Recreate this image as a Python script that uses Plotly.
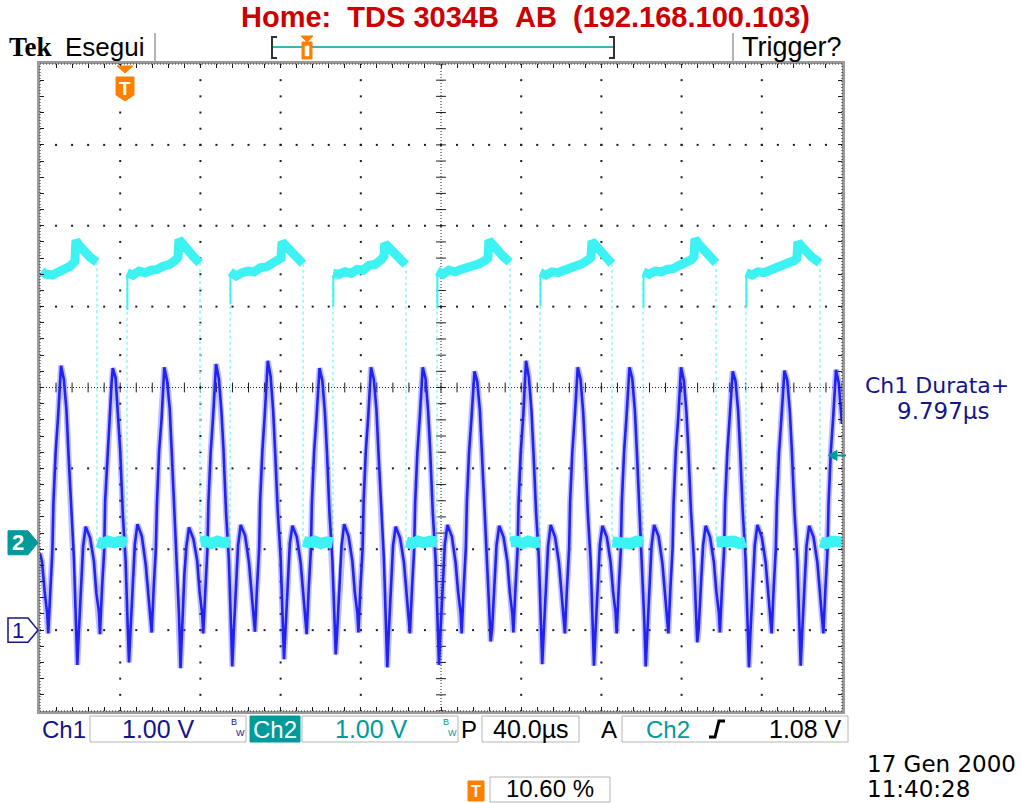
import numpy as np
import plotly.graph_objects as go

TIME_PER_DIV_US = 40.0           # 40.0 us/div, 10 divisions
CH1_VOLTS_PER_DIV = 1.0
CH2_VOLTS_PER_DIV = 1.0
CH1_OFFSET_DIV = -3.0            # ground marker "1"
CH2_OFFSET_DIV = -1.92           # ground marker "2"
TRIG_LEVEL_V = 1.08
TRIG_POS_PCT = 10.60

# Channel 1 (blue) : time in us, value in V
CH1_T = [
    0.0, 1.0, 2.3, 3.6, 4.1, 5.1, 6.2, 6.7, 7.8, 9.0, 9.9,
    10.5, 11.9, 13.2, 14.2, 15.5, 16.9, 17.9, 18.6, 19.3, 20.5, 21.5, 22.8, 25.0, 26.9, 28.1, 29.4, 29.9, 30.9, 32.0, 32.5, 33.6, 34.8, 35.7,
    36.3, 37.7, 39.0, 40.0, 41.3, 42.7, 43.7, 44.4, 45.1, 46.3, 47.3, 48.6, 50.8, 52.7, 53.9, 55.2, 55.7, 56.7, 57.8, 58.3, 59.4, 60.6, 61.5,
    62.0, 63.4, 64.7, 65.7, 67.0, 68.4, 69.4, 70.1, 70.8, 72.0, 73.0, 74.3, 76.5, 78.4, 79.6, 80.9, 81.4, 82.4, 83.5, 84.0, 85.1, 86.3, 87.2,
    87.8, 89.2, 90.5, 91.5, 92.8, 94.2, 95.2, 95.9, 96.6, 97.8, 98.8, 100.1, 102.3, 104.2, 105.4, 106.7, 107.2, 108.2, 109.3, 109.8, 110.9, 112.1, 113.0,
    113.6, 115.0, 116.3, 117.3, 118.6, 120.0, 121.0, 121.7, 122.4, 123.6, 124.6, 125.9, 128.1, 130.0, 131.2, 132.5, 133.0, 134.0, 135.1, 135.6, 136.7, 137.9, 138.8,
    139.4, 140.8, 142.1, 143.1, 144.4, 145.8, 146.8, 147.5, 148.2, 149.4, 150.4, 151.7, 153.9, 155.8, 157.0, 158.3, 158.8, 159.8, 160.9, 161.4, 162.5, 163.7, 164.6,
    165.1, 166.5, 167.8, 168.8, 170.1, 171.5, 172.5, 173.2, 173.9, 175.1, 176.1, 177.4, 179.6, 181.5, 182.7, 184.0, 184.5, 185.5, 186.6, 187.1, 188.2, 189.4, 190.3,
    190.9, 192.3, 193.6, 194.6, 195.9, 197.3, 198.3, 199.0, 199.7, 200.9, 201.9, 203.2, 205.4, 207.3, 208.5, 209.8, 210.3, 211.3, 212.4, 212.9, 214.0, 215.2, 216.1,
    216.7, 218.1, 219.4, 220.4, 221.7, 223.1, 224.1, 224.8, 225.5, 226.7, 227.7, 229.0, 231.2, 233.1, 234.3, 235.6, 236.1, 237.1, 238.2, 238.7, 239.8, 241.0, 241.9,
    242.4, 243.8, 245.1, 246.1, 247.4, 248.8, 249.8, 250.5, 251.2, 252.4, 253.4, 254.7, 256.9, 258.8, 260.0, 261.3, 261.8, 262.8, 263.9, 264.4, 265.5, 266.7, 267.6,
    268.2, 269.6, 270.9, 271.9, 273.2, 274.6, 275.6, 276.3, 277.0, 278.2, 279.2, 280.5, 282.7, 284.6, 285.8, 287.1, 287.6, 288.6, 289.7, 290.2, 291.3, 292.5, 293.4,
    294.0, 295.4, 296.7, 297.7, 299.0, 300.4, 301.4, 302.1, 302.8, 304.0, 305.0, 306.3, 308.5, 310.4, 311.6, 312.9, 313.4, 314.4, 315.5, 316.0, 317.1, 318.3, 319.2,
    319.7, 321.1, 322.4, 323.4, 324.7, 326.1, 327.1, 327.8, 328.5, 329.7, 330.7, 332.0, 334.2, 336.1, 337.3, 338.6, 339.1, 340.1, 341.2, 341.7, 342.8, 344.0, 344.9,
    345.5, 346.9, 348.2, 349.2, 350.5, 351.9, 352.9, 353.6, 354.3, 355.5, 356.5, 357.8, 360.0, 361.9, 363.1, 364.4, 364.9, 365.9, 367.0, 367.5, 368.6, 369.8, 370.7,
    371.3, 372.7, 374.0, 375.0, 376.3, 377.7, 378.7, 379.4, 380.1, 381.3, 382.3, 383.6, 385.8, 387.7, 388.9, 390.2, 390.7, 391.7, 392.8, 393.3, 394.4, 395.6, 396.5,
    397.0, 398.4, 400.0,
]
CH1_V = [
    0.95, 0.85, 0.48, 0.20, -0.04, 0.50, 1.00, 1.57, 2.20, 2.63, 3.05,
    3.27, 3.10, 2.72, 2.18, 1.47, 0.90, 0.12, -0.43, -0.06, 0.66, 1.04, 1.28, 1.14, 0.85, 0.46, 0.22, -0.05, 0.50, 0.98, 1.60, 2.18, 2.64, 3.06,
    3.24, 3.12, 2.68, 2.22, 1.43, 0.86, 0.08, -0.40, -0.03, 0.64, 1.06, 1.31, 1.16, 0.82, 0.50, 0.18, -0.03, 0.52, 1.02, 1.55, 2.22, 2.60, 3.02,
    3.25, 3.08, 2.74, 2.20, 1.48, 0.89, 0.14, -0.47, -0.07, 0.68, 1.03, 1.27, 1.13, 0.86, 0.47, 0.20, -0.04, 0.49, 1.00, 1.57, 2.19, 2.63, 3.04,
    3.29, 3.11, 2.70, 2.24, 1.45, 0.87, 0.11, -0.45, -0.04, 0.65, 1.05, 1.30, 1.17, 0.84, 0.49, 0.21, -0.02, 0.51, 1.01, 1.59, 2.21, 2.66, 3.08,
    3.33, 3.14, 2.71, 2.19, 1.46, 0.90, 0.18, -0.36, -0.02, 0.67, 1.07, 1.29, 1.15, 0.83, 0.48, 0.19, -0.05, 0.50, 0.99, 1.56, 2.20, 2.62, 3.03,
    3.24, 3.09, 2.69, 2.21, 1.44, 0.88, 0.15, -0.30, -0.02, 0.66, 1.04, 1.31, 1.16, 0.85, 0.47, 0.21, -0.03, 0.52, 1.01, 1.58, 2.21, 2.64, 3.05,
    3.25, 3.10, 2.73, 2.20, 1.47, 0.89, 0.10, -0.46, -0.05, 0.65, 1.05, 1.28, 1.14, 0.84, 0.49, 0.20, -0.04, 0.50, 1.00, 1.57, 2.19, 2.63, 3.04,
    3.25, 3.11, 2.70, 2.22, 1.45, 0.87, 0.12, -0.43, -0.04, 0.66, 1.06, 1.30, 1.16, 0.83, 0.48, 0.21, -0.04, 0.51, 1.02, 1.59, 2.20, 2.62, 3.06,
    3.20, 3.07, 2.71, 2.19, 1.46, 0.88, 0.20, -0.14, 0.02, 0.67, 1.05, 1.29, 1.15, 0.85, 0.47, 0.20, -0.03, 0.50, 1.00, 1.57, 2.21, 2.64, 3.05,
    3.33, 3.13, 2.72, 2.21, 1.47, 0.89, 0.13, -0.42, -0.05, 0.66, 1.04, 1.30, 1.15, 0.84, 0.48, 0.20, -0.04, 0.51, 1.01, 1.58, 2.20, 2.63, 3.05,
    3.25, 3.10, 2.70, 2.21, 1.45, 0.88, 0.12, -0.44, -0.05, 0.65, 1.05, 1.29, 1.15, 0.84, 0.48, 0.21, -0.04, 0.50, 1.00, 1.58, 2.20, 2.63, 3.05,
    3.25, 3.11, 2.71, 2.20, 1.46, 0.87, 0.11, -0.45, -0.05, 0.66, 1.04, 1.30, 1.16, 0.83, 0.49, 0.20, -0.04, 0.51, 1.01, 1.57, 2.21, 2.62, 3.04,
    3.25, 3.09, 2.70, 2.22, 1.46, 0.89, 0.22, -0.15, 0.01, 0.66, 1.05, 1.29, 1.15, 0.84, 0.48, 0.21, -0.03, 0.50, 1.00, 1.58, 2.20, 2.64, 3.05,
    3.20, 3.08, 2.71, 2.21, 1.46, 0.88, 0.12, -0.46, -0.05, 0.65, 1.05, 1.30, 1.15, 0.84, 0.48, 0.20, -0.04, 0.51, 1.01, 1.57, 2.20, 2.63, 3.04,
    3.21, 3.09, 2.70, 2.21, 1.46, 0.88, 0.12, -0.44, -0.05, 0.65, 1.04, 1.29, 1.15, 0.84, 0.48, 0.20, -0.04, 0.50, 1.00, 1.57, 2.20, 2.63, 3.05,
    3.22, 3.05, 2.55,
]

# Channel 2 (cyan) high-state segments (None separates segments)
CH2_HIGH_T = [
    0.8, 3.0, 6.0, 9.0, 12.0, 15.0, 17.4, 17.9, 19.4, 22.0, 25.0, 28.3, None,
    43.5, 46.4, 49.4, 52.4, 55.4, 58.4, 61.4, 64.4, 67.4, 68.8, 69.3, 70.9, 73.4, 76.4, 79.7, None,
    94.9, 97.8, 100.8, 103.8, 106.8, 109.8, 112.8, 115.8, 118.8, 120.2, 120.7, 122.3, 124.8, 127.8, 131.1, None,
    146.2, 149.1, 152.1, 155.1, 158.1, 161.1, 164.1, 167.1, 170.1, 171.5, 172.0, 173.6, 176.1, 179.1, 182.4, None,
    198.1, 201.0, 204.0, 207.0, 210.0, 213.0, 216.0, 219.0, 222.0, 223.4, 223.9, 225.5, 228.0, 231.0, 234.3, None,
    249.5, 252.4, 255.4, 258.4, 261.4, 264.4, 267.4, 270.4, 273.4, 274.8, 275.3, 276.9, 279.4, 282.4, 285.2, None,
    300.9, 303.8, 306.8, 309.8, 312.8, 315.8, 318.8, 321.8, 324.8, 326.2, 326.7, 328.3, 330.8, 333.8, 337.1, None,
    352.2, 355.1, 358.1, 361.1, 364.1, 367.1, 370.1, 373.1, 376.1, 377.5, 378.0, 379.6, 382.1, 385.1, 388.9,
]
CH2_HIGH_V = [
    3.36, 3.32, 3.31, 3.35, 3.37, 3.42, 3.48, 3.74, 3.68, 3.60, 3.53, 3.47, None,
    3.34, 3.31, 3.36, 3.34, 3.37, 3.38, 3.42, 3.44, 3.49, 3.53, 3.75, 3.70, 3.61, 3.54, 3.46, None,
    3.35, 3.30, 3.34, 3.36, 3.35, 3.40, 3.41, 3.45, 3.48, 3.52, 3.72, 3.68, 3.60, 3.53, 3.45, None,
    3.33, 3.32, 3.35, 3.33, 3.38, 3.37, 3.43, 3.44, 3.50, 3.54, 3.70, 3.66, 3.58, 3.52, 3.44, None,
    3.36, 3.32, 3.37, 3.35, 3.38, 3.40, 3.42, 3.45, 3.49, 3.52, 3.74, 3.69, 3.61, 3.54, 3.47, None,
    3.34, 3.31, 3.35, 3.34, 3.37, 3.39, 3.41, 3.45, 3.50, 3.53, 3.73, 3.68, 3.60, 3.53, 3.45, None,
    3.35, 3.32, 3.36, 3.35, 3.38, 3.39, 3.43, 3.46, 3.50, 3.54, 3.76, 3.70, 3.62, 3.55, 3.46, None,
    3.34, 3.31, 3.35, 3.34, 3.37, 3.40, 3.42, 3.44, 3.49, 3.52, 3.72, 3.67, 3.60, 3.53, 3.46,
]
# Channel 2 low-state segments
CH2_LOW_T = [
    28.6, 31.0, 34.0, 37.0, 40.0, 43.2, None,
    80.0, 82.5, 85.5, 88.5, 91.5, 94.6, None,
    131.4, 134.0, 137.0, 140.0, 143.0, 145.9, None,
    182.7, 185.5, 188.5, 191.5, 194.5, 197.8, None,
    234.6, 237.5, 240.5, 243.5, 246.5, 249.2, None,
    285.5, 288.5, 291.5, 294.5, 297.5, 300.6, None,
    337.4, 340.0, 343.0, 346.0, 349.0, 351.9, None,
    389.2, 392.0, 395.0, 398.0, 400.0,
]
CH2_LOW_V = [
    0.01, -0.01, 0.02, 0.00, 0.02, 0.00, None,
    0.01, 0.02, -0.01, 0.02, 0.00, 0.01, None,
    0.02, 0.00, 0.02, -0.01, 0.01, 0.00, None,
    0.01, -0.01, 0.02, 0.00, 0.02, 0.01, None,
    0.01, 0.02, -0.01, 0.02, 0.00, 0.01, None,
    0.01, 0.00, 0.02, -0.01, 0.02, 0.01, None,
    0.01, 0.02, 0.00, 0.02, -0.01, 0.01, None,
    0.01, -0.01, 0.02, 0.00, 0.01,
]
CH2_FALL_T = [28.4, 79.8, 131.2, 182.5, 234.4, 285.3, 337.2, 389.0]
CH2_FALL_TOP_V = [3.47, 3.46, 3.45, 3.44, 3.47, 3.45, 3.46, 3.46]
CH2_RISE_T = [43.4, 94.8, 146.1, 198.0, 249.4, 300.8, 352.1]
CH2_RISE_TOP_V = [3.32, 3.30, 3.31, 3.33, 3.30, 3.31, 3.30]
CH2_RISE_SPIKE_V = [2.88, 2.95, 2.92, 2.90, 2.93, 2.91, 2.92]

# ---------------- colours ----------------
CH1_COL = "#2222F2"
CH1_HALO = "rgba(70,70,255,0.35)"
CH2_COL = "#3CF2F2"
CH2_EDGE = "#8CF6F6"
NAVY = "#14148C"
TEAL = "#009A9A"
ORANGE = "#FF8000"
RED = "#CC0000"

# ---------------- geometry helpers (pixel -> paper) ----------------
W, H = 1021, 803
PL, PR, PT, PB = 40, 842, 64, 711


def fx(p):
    return (p - PL) / (PR - PL)


def fy(p):
    return (PB - p) / (PB - PT)


def path_px(points, close=True):
    s = "M " + " L ".join(f"{fx(x):.5f},{fy(y):.5f}" for x, y in points)
    return s + (" Z" if close else "")


def ch1_div(v):
    return [None if a is None else a / CH1_VOLTS_PER_DIV + CH1_OFFSET_DIV for a in v]


def ch2_div(v):
    return [None if a is None else a / CH2_VOLTS_PER_DIV + CH2_OFFSET_DIV for a in v]


fig = go.Figure()

# graticule dots (decoration)
gx, gy = [], []
for xv in [40, 80, 120, 160, 240, 280, 320, 360]:
    for yv in np.arange(-4, 4.001, 0.2):
        gx.append(xv); gy.append(yv)
for yv in [-3, -2, -1, 1, 2, 3]:
    for xv in np.arange(0, 400.1, 8):
        gx.append(xv); gy.append(yv)
fig.add_trace(go.Scatter(x=gx, y=gy, mode="markers", hoverinfo="skip",
                         marker=dict(symbol="square", size=2, color="#1a1a1a", line=dict(width=0))))
# centre cross tick marks
cx = list(np.arange(0, 400.1, 8))
fig.add_trace(go.Scatter(x=cx, y=[0] * len(cx), mode="markers", hoverinfo="skip",
                         marker=dict(symbol="line-ns", size=7, line=dict(width=1, color="#1a1a1a"))))
cy = list(np.arange(-4, 4.001, 0.2))
fig.add_trace(go.Scatter(x=[200] * len(cy), y=cy, mode="markers", hoverinfo="skip",
                         marker=dict(symbol="line-ew", size=7, line=dict(width=1, color="#1a1a1a"))))

# ch2 edges (thin dotted) and rising-edge spikes
ex, ey = [], []
for t, top in zip(CH2_FALL_T, CH2_FALL_TOP_V):
    ex += [t, t, None]; ey += [top, 0.0, None]
for t, top in zip(CH2_RISE_T, CH2_RISE_TOP_V):
    ex += [t, t, None]; ey += [0.0, top, None]
fig.add_trace(go.Scatter(x=ex, y=ch2_div(ey), mode="lines", hoverinfo="skip",
                         line=dict(color=CH2_EDGE, width=1.5, dash="dot")))

# ch1
fig.add_trace(go.Scatter(x=CH1_T, y=ch1_div(CH1_V), mode="lines", hoverinfo="skip",
                         line=dict(color=CH1_HALO, width=6)))
fig.add_trace(go.Scatter(x=CH1_T, y=ch1_div(CH1_V), mode="lines", name="Ch1",
                         line=dict(color=CH1_COL, width=2.6)))

# ch2 bands
sx, sy = [], []
for t, top, sp in zip(CH2_RISE_T, CH2_RISE_TOP_V, CH2_RISE_SPIKE_V):
    sx += [t + 0.2, t + 0.2, None]; sy += [top, sp, None]
fig.add_trace(go.Scatter(x=sx, y=ch2_div(sy), mode="lines", hoverinfo="skip",
                         line=dict(color=CH2_COL, width=2)))
fig.add_trace(go.Scatter(x=CH2_LOW_T, y=ch2_div(CH2_LOW_V), mode="lines", connectgaps=False,
                         line=dict(color=CH2_COL, width=11), hoverinfo="skip"))
fig.add_trace(go.Scatter(x=CH2_HIGH_T, y=ch2_div(CH2_HIGH_V), mode="lines", connectgaps=False,
                         line=dict(color=CH2_COL, width=9), name="Ch2"))

shapes = []
ann = []


def text(x, y, s, size=24, color="black", family="Liberation Sans", xanchor="center"):
    ann.append(dict(x=fx(x), y=fy(y), xref="paper", yref="paper", text=s, showarrow=False,
                    xanchor=xanchor, yanchor="middle",
                    font=dict(family=family, size=size, color=color)))


def rect(x0, y0, x1, y1, fill="white", line="#b4b4b4", lw=1):
    shapes.append(dict(type="rect", xref="paper", yref="paper", x0=fx(x0), x1=fx(x1),
                       y0=fy(y1), y1=fy(y0), fillcolor=fill, line=dict(color=line, width=lw),
                       layer="above"))


def poly(points, fill=None, line=None, lw=1, close=True):
    d = dict(type="path", xref="paper", yref="paper", path=path_px(points, close), layer="above",
             line=dict(color=line if line else "rgba(0,0,0,0)", width=lw))
    if fill:
        d["fillcolor"] = fill
    shapes.append(d)


# dotted inner frame and centre lines
shapes.append(dict(type="rect", xref="paper", yref="paper", x0=0, x1=1, y0=0, y1=1,
                   line=dict(color="#222", width=1, dash="1px,2px"), layer="above"))
shapes.append(dict(type="line", xref="paper", yref="y", x0=0, x1=1, y0=0, y1=0,
                   line=dict(color="#222", width=1, dash="1px,2px"), layer="below"))
shapes.append(dict(type="line", xref="x", yref="paper", x0=200, x1=200, y0=0, y1=1,
                   line=dict(color="#222", width=1, dash="1px,2px"), layer="below"))

# ---- title ----
NB = "\u00a0"
text(525, 17, f"<b>Home:{NB}{NB}TDS 3034B{NB}{NB}AB{NB}{NB}(192.168.100.103)</b>", size=29, color=RED)

# ---- top status bar ----
text(7, 47, "<b>Tek</b>", size=27, family="Liberation Serif", xanchor="left")
text(63, 47, "Esegui", size=26, xanchor="left")
poly([(155, 33), (155, 62)], line="#9a9a9a", lw=1.5, close=False)
poly([(733, 33), (733, 62)], line="#9a9a9a", lw=1.5, close=False)
text(740, 47, "Trigger?", size=27, xanchor="left")
poly([(273, 47), (613, 47)], line="#3AB4B4", lw=2, close=False)
poly([(277, 37), (272, 37), (272, 58), (277, 58)], line="#333", lw=2, close=False)
poly([(609, 37), (614, 37), (614, 58), (609, 58)], line="#333", lw=2, close=False)
poly([(301, 36), (313, 36), (307, 42)], fill=ORANGE, line=ORANGE)
poly([(302, 42), (312, 42), (312, 59), (302, 59)], fill=ORANGE, line=ORANGE)
poly([(305, 46), (309, 46), (309, 56), (305, 56)], fill="white", line="white", lw=0.5)

# ---- trigger position marker ----
x_t = PL + TRIG_POS_PCT / 100 * (PR - PL)
poly([(x_t - 8, 66), (x_t + 8, 66), (x_t, 73)], fill=ORANGE, line=ORANGE)
poly([(x_t - 9, 77), (x_t + 9, 77), (x_t + 9, 95), (x_t, 101), (x_t - 9, 95)], fill=ORANGE, line=ORANGE)
text(x_t, 88, "<b>T</b>", size=19, color="white")

# ---- channel ground markers ----
y2 = (PT + PB) / 2 - CH2_OFFSET_DIV * (PB - PT) / 8
y1 = (PT + PB) / 2 - CH1_OFFSET_DIV * (PB - PT) / 8
poly([(8, y2 - 12), (28, y2 - 12), (38, y2), (28, y2 + 12), (8, y2 + 12)], fill=TEAL, line=TEAL)
text(18, y2, "<b>2</b>", size=22, color="white")
poly([(8, y1 - 12), (28, y1 - 12), (38, y1), (28, y1 + 12), (8, y1 + 12)], fill="white", line=NAVY, lw=1.5)
text(18, y1, "1", size=22, color=NAVY)

# ---- trigger level arrow ----
yt = (PT + PB) / 2 - (TRIG_LEVEL_V / CH2_VOLTS_PER_DIV + CH2_OFFSET_DIV) * (PB - PT) / 8
poly([(828, yt), (837, yt - 5), (837, yt + 5)], fill=TEAL, line=TEAL)
poly([(836, yt), (846, yt)], line=TEAL, lw=2, close=False)

# ---- measurement ----
text(937, 385, "Ch1 Durata+", size=22, color=NAVY, family="DejaVu Sans")
text(943, 411, "9.797µs", size=23, color=NAVY, family="DejaVu Sans")

# ---- bottom bar ----
BY = 729
text(40, BY, "Ch1", size=24, color=NAVY, xanchor="left")
rect(90, 716, 246, 742)
text(158, BY, "1.00 V", size=25, color=NAVY)
text(234, 722, "B", size=9, color=NAVY)
text(240, 733, "W", size=9, color=NAVY)
rect(250, 716, 300, 742, fill=TEAL, line=TEAL)
text(275, BY, "Ch2", size=24, color="white")
rect(302, 716, 458, 742)
text(371, BY, "1.00 V", size=25, color=TEAL)
text(446, 722, "B", size=9, color=TEAL)
text(452, 733, "W", size=9, color=TEAL)
text(469, BY, "P", size=24)
rect(482, 716, 579, 742)
text(531, BY, "40.0µs", size=25)
text(609, BY, "A", size=24)
rect(622, 716, 848, 742)
text(668, BY, "Ch2", size=24, color=TEAL)
poly([(709, 737), (715, 737), (719, 721), (725, 721)], line="black", lw=3, close=False)
text(844, BY, "1.08 V", size=25, xanchor="right")

text(865, 764, "17 Gen 2000", size=23, family="DejaVu Sans", xanchor="left")
text(865, 789, "11:40:28", size=23, family="DejaVu Sans", xanchor="left")
poly([(468, 781), (484, 781), (484, 801), (468, 801)], fill=ORANGE, line=ORANGE)
text(476, 791, "<b>T</b>", size=16, color="white")
rect(490, 777, 610, 802)
text(550, 789, "10.60 %", size=24)

fig.update_layout(
    width=W, height=H,
    margin=dict(l=PL, r=W - PR, t=PT, b=H - PB, pad=0),
    paper_bgcolor="white", plot_bgcolor="white",
    showlegend=False,
    shapes=shapes, annotations=ann,
    xaxis=dict(range=[0, 10 * TIME_PER_DIV_US], showgrid=False, zeroline=False, showticklabels=False,
               ticks="inside", tick0=0, dtick=TIME_PER_DIV_US / 5, ticklen=4, tickcolor="#1a1a1a",
               showline=True, linecolor="#9a9a9a", linewidth=3, mirror="ticks", fixedrange=True),
    yaxis=dict(range=[-4, 4], showgrid=False, zeroline=False, showticklabels=False,
               ticks="inside", tick0=0, dtick=0.2, ticklen=4, tickcolor="#1a1a1a",
               showline=True, linecolor="#9a9a9a", linewidth=3, mirror="ticks", fixedrange=True),
)

fig.write_html("out.html")
